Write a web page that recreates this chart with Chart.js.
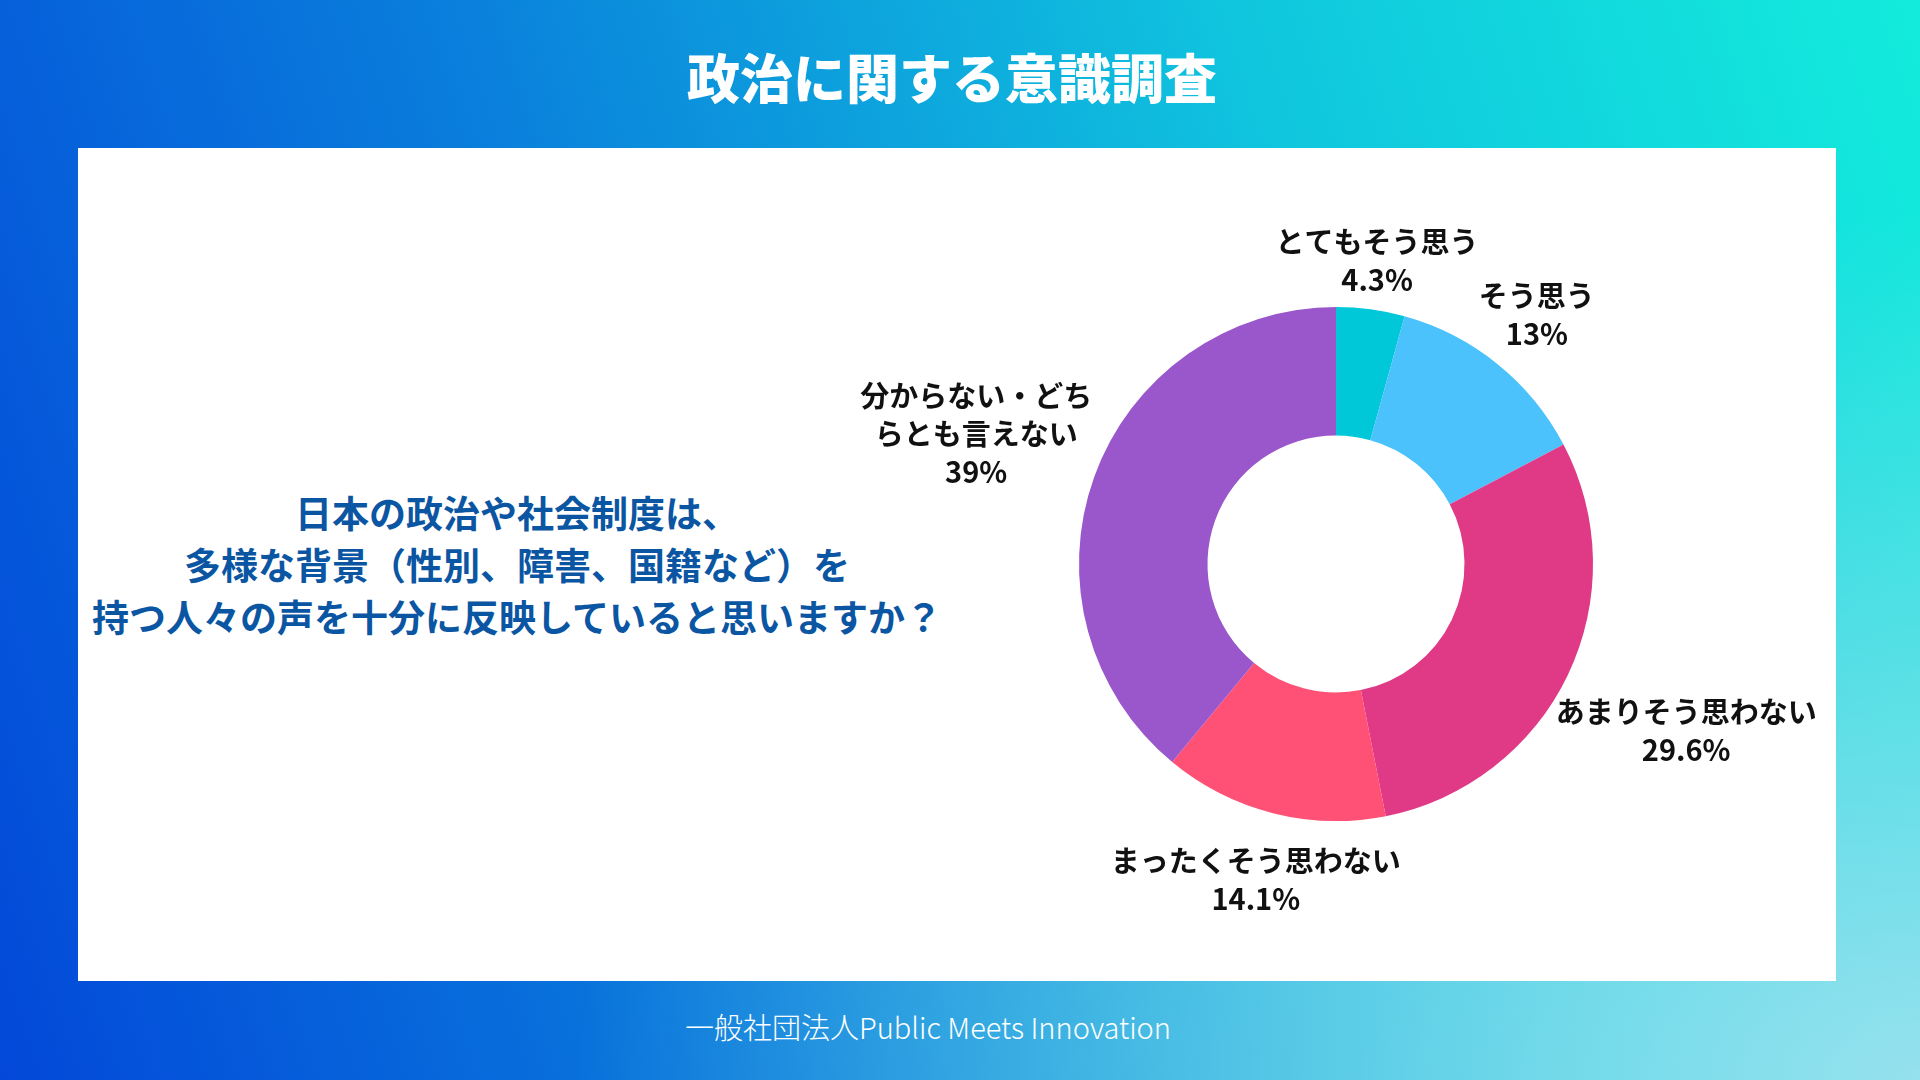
<!DOCTYPE html>
<html lang="ja">
<head>
<meta charset="utf-8">
<title>政治に関する意識調査</title>
<script src="https://cdn.jsdelivr.net/npm/chart.js@4.4.1/dist/chart.umd.min.js"></script>
<style>
  html, body { margin: 0; padding: 0; }
  body {
    width: 1920px; height: 1080px; position: relative; overflow: hidden;
    font-family: "Noto Sans CJK JP", "Noto Sans", sans-serif;
    background:
      radial-gradient(ellipse 70% 80% at 100% 100%, rgba(150,225,238,1) 0%, rgba(150,225,238,0) 100%),
      linear-gradient(72deg, #0348d9 0%, #0a7fdc 35%, #10c6de 70%, #13ecdc 100%);
  }
  #title {
    position: absolute; left: 0; width: 1904px; top: 40px;
    text-align: center; color: #fff; font-weight: 900; font-size: 53px; line-height: 72px;
  }
  #panel {
    position: absolute; left: 78px; top: 148px; width: 1758px; height: 833px; background: #fff;
  }
  #question {
    position: absolute; left: 0; width: 878px; top: 338px;
    text-align: center; color: #0b56a3; font-weight: 700; font-size: 37px; line-height: 52px;
  }
  #chartBox { position: absolute; left: 758px; top: 16px; width: 1000px; height: 800px; }
  #footer {
    position: absolute; left: 0; width: 1856px; top: 1006px;
    text-align: center; color: #fff; font-weight: 300; font-size: 29px; line-height: 40px;
  }
</style>
</head>
<body>
<div id="title">政治に関する意識調査</div>
<div id="panel">
  <div id="question">日本の政治や社会制度は、<br>多様な背景（性別、障害、国籍など）を<br>持つ人々の声を十分に反映していると思いますか？</div>
  <div id="chartBox"><canvas id="donut"></canvas></div>
</div>
<div id="footer">一般社団法人Public Meets Innovation</div>

<script>
/* data */
const CATEGORIES = [
  ["とてもそう思う"],
  ["そう思う"],
  ["あまりそう思わない"],
  ["まったくそう思わない"],
  ["分からない・どち", "らとも言えない"]
];
const VALUES = [4.3, 13, 29.6, 14.1, 39];
const COLORS = ["#00c8d9", "#4bc2fb", "#e03a87", "#ff5076", "#9a57cb"];

/* outside labels, pushed out along each slice's mid angle */
const outLabels = {
  id: "outLabels",
  afterDatasetsDraw(chart) {
    const ctx = chart.ctx;
    const lineH = 38;
    const pad = -3;
    ctx.save();
    ctx.font = "700 29px 'Noto Sans CJK JP', 'Noto Sans', sans-serif";
    ctx.fillStyle = "#111";
    ctx.textAlign = "center";
    ctx.textBaseline = "middle";
    chart.getDatasetMeta(0).data.forEach((arc, i) => {
      const p = arc.getProps(["x", "y", "startAngle", "endAngle", "outerRadius"], true);
      const a = (p.startAngle + p.endAngle) / 2;
      const lines = CATEGORIES[i].concat([VALUES[i] + "%"]);
      const halfW = Math.max(...lines.map(t => ctx.measureText(t).width)) / 2;
      const halfH = lines.length * lineH / 2;
      const c = Math.cos(a), s = Math.sin(a);
      const d = p.outerRadius + pad + halfW * Math.abs(c) + halfH * Math.abs(s);
      const cx = p.x + c * d, cy = p.y + s * d;
      lines.forEach((t, k) => {
        ctx.fillText(t, cx, cy - halfH + lineH * (k + 0.5));
      });
    });
    ctx.restore();
  }
};

new Chart(document.getElementById("donut"), {
  type: "doughnut",
  data: {
    labels: CATEGORIES.map(l => l.join("")),
    datasets: [{
      data: VALUES,
      backgroundColor: COLORS,
      borderWidth: 0
    }]
  },
  options: {
    responsive: true,
    maintainAspectRatio: false,
    animation: false,
    radius: 257,
    cutout: "50%",
    plugins: { legend: { display: false }, tooltip: { enabled: false } }
  },
  plugins: [outLabels]
});
</script>
</body>
</html>
